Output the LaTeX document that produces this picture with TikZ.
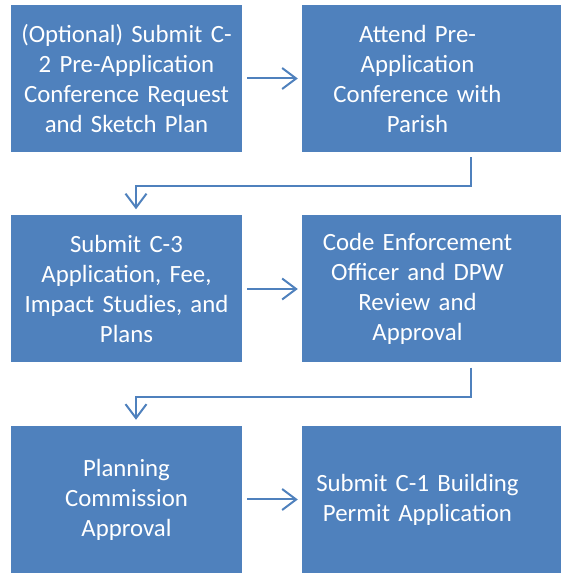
\documentclass[tikz,border=0pt]{standalone}
\usepackage{fontspec}
\setmainfont{Carlito}
\usepackage{xcolor}
\usetikzlibrary{arrows.meta}
\definecolor{stepblue}{HTML}{4F81BD}

\begin{document}
\begin{tikzpicture}[x=1pt,y=1pt,
    stepbox/.style={fill=stepblue,text=white,minimum width=231pt,minimum height=147pt,
      text width=229pt,inner sep=0pt,align=center,font=\fontsize{24.8}{30}\selectfont},
    % right column runs past the page edge, text stays on the left part
    edgebox/.style={fill=stepblue,text=white,minimum height=147pt,text width=260pt,inner sep=0pt,
      font=\fontsize{24.8}{30}\selectfont,
      execute at begin node={\centering\rightskip=29pt plus 1fil\relax}},
    flow/.style={draw=stepblue,line width=2pt,-{Straight Barb[length=14pt,width=21pt,line width=2pt]}}]
    \useasboundingbox (0,0) rectangle (560,573);
    \node[stepbox] (preapp) at (126.5,494.5) {(Optional) Submit C-\\2 Pre-Application\\Conference Request\\and Sketch Plan};
    \node[edgebox] (attend) at (432,494.5) {Attend Pre-\\Application\\Conference with\\Parish};
    \node[stepbox] (submit) at (126.5,284) {Submit C-3\\Application, Fee,\\Impact Studies, and\\Plans};
    \node[edgebox] (review) at (432,284) {Code Enforcement\\Officer and DPW\\Review and\\Approval};
    \node[stepbox] (planning) at (126.5,73.5) {Planning\\Commission\\Approval};
    \node[edgebox] (permit) at (432,73.5) {Submit C-1 Building\\Permit Application};
    \draw[flow,shorten <=5pt,shorten >=4pt] (preapp) -- (attend);
    \draw[flow,shorten <=5pt,shorten >=4pt] (submit) -- (review);
    \draw[flow,shorten <=5pt,shorten >=4pt] (planning) -- (permit);
    \draw[flow,shorten <=5pt,shorten >=6pt] ([xshift=39pt]attend.south) -- ++(0,-34) -| ([xshift=9.5pt]submit.north);
    \draw[flow,shorten <=5pt,shorten >=6pt] ([xshift=39pt]review.south) -- ++(0,-34) -| ([xshift=9.5pt]planning.north);
  \end{tikzpicture}
\end{document}
